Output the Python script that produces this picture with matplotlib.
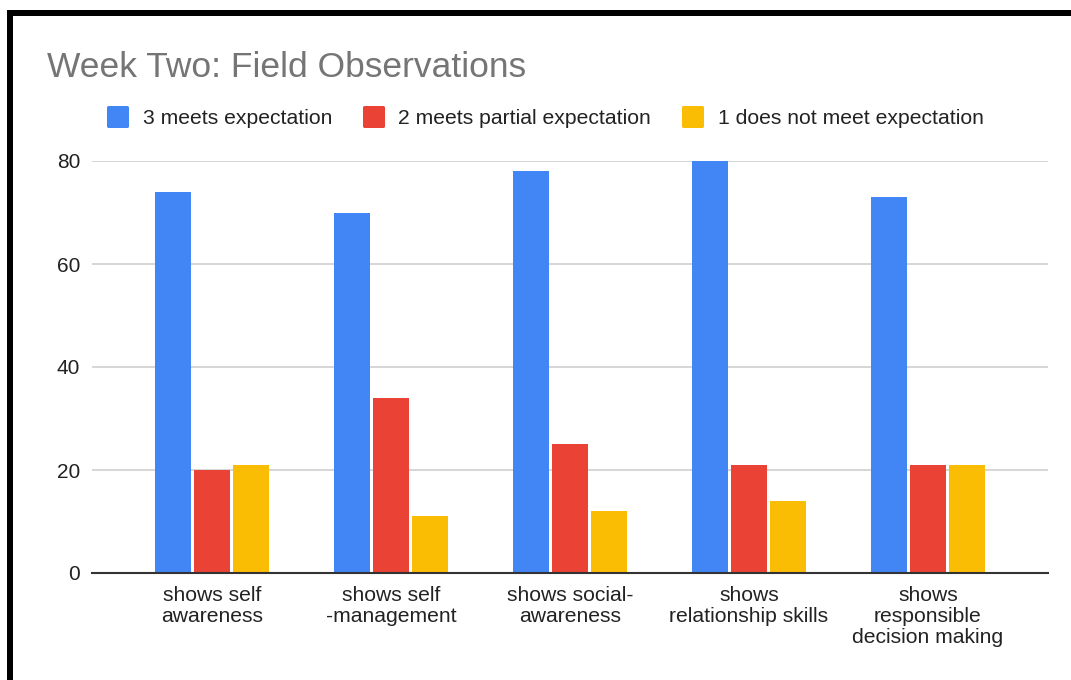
import matplotlib
matplotlib.use("Agg")
import matplotlib.pyplot as plt
from matplotlib.patches import Rectangle, FancyBboxPatch
import numpy as np

plt.rcParams["font.family"] = ["Liberation Sans", "DejaVu Sans"]

categories = [
    "shows self\nawareness",
    "shows self\n-management",
    "shows social-\nawareness",
    "shows\nrelationship skills",
    "shows\nresponsible\ndecision making",
]
series_names = [
    "3 meets expectation",
    "2 meets partial expectation",
    "1 does not meet expectation",
]
meets = [74, 70, 78, 80, 73]
partial = [20, 34, 25, 21, 21]
not_meet = [21, 11, 12, 14, 21]
colors = ["#4285F4", "#EA4335", "#FBBC04"]
yticks = [0, 20, 40, 60, 80]

W, H = 1071, 680
fig = plt.figure(figsize=(W / 100, H / 100), dpi=100)
ax = fig.add_axes([92 / W, (H - 573) / H, (1048 - 92) / W, (573 - 161) / H])

x = np.arange(len(categories))
step = 0.2196
width = 0.201
for i, (vals, col) in enumerate(zip([meets, partial, not_meet], colors)):
    ax.bar(x + (i - 1) * step, vals, width=width, color=col, zorder=3, linewidth=0)

ax.set_xlim(-0.670, 4.671)
ax.set_ylim(0, 80)
ax.set_yticks(yticks)
ax.set_yticklabels([str(v) for v in yticks], fontsize=15, color="#222222")
ax.set_xticks(x)
ax.set_xticklabels(categories, fontsize=15.2, color="#222222", linespacing=1.13, va="top")
ax.tick_params(axis="both", length=0)
ax.tick_params(axis="x", pad=9.5)
ax.tick_params(axis="y", pad=8.5)
ax.grid(axis="y", color="#cccccc", linewidth=1.1, zorder=0)
for side in ["top", "right", "left"]:
    ax.spines[side].set_visible(False)
ax.spines["bottom"].set_color("#333333")
ax.spines["bottom"].set_linewidth(1.5)
ax.spines["bottom"].set_zorder(4)

# title and legend row
fig.text(47 / W, (H - 77) / H, "Week Two: Field Observations", fontsize=25.5,
         color="#757575", va="baseline", ha="left")
square_x = [107, 363, 682]
text_x = [143, 398, 718]
for sx, tx, col, name in zip(square_x, text_x, colors, series_names):
    fig.add_artist(FancyBboxPatch((sx / W, (H - 128) / H), 22 / W, 22 / H,
                                  boxstyle="round,pad=0,rounding_size=0.002",
                                  transform=fig.transFigure, facecolor=col,
                                  edgecolor="none"))
    fig.text(tx / W, (H - 124) / H, name, fontsize=15.25, color="#222222",
             va="baseline", ha="left")

# black frame along the top and left
fig.add_artist(Rectangle((7 / W, 0), 6 / W, (H - 10) / H, transform=fig.transFigure,
                         facecolor="black", edgecolor="none"))
fig.add_artist(Rectangle((7 / W, (H - 16) / H), (W - 7) / W, 6 / H,
                         transform=fig.transFigure, facecolor="black", edgecolor="none"))

fig.savefig("out.png", dpi=100)
